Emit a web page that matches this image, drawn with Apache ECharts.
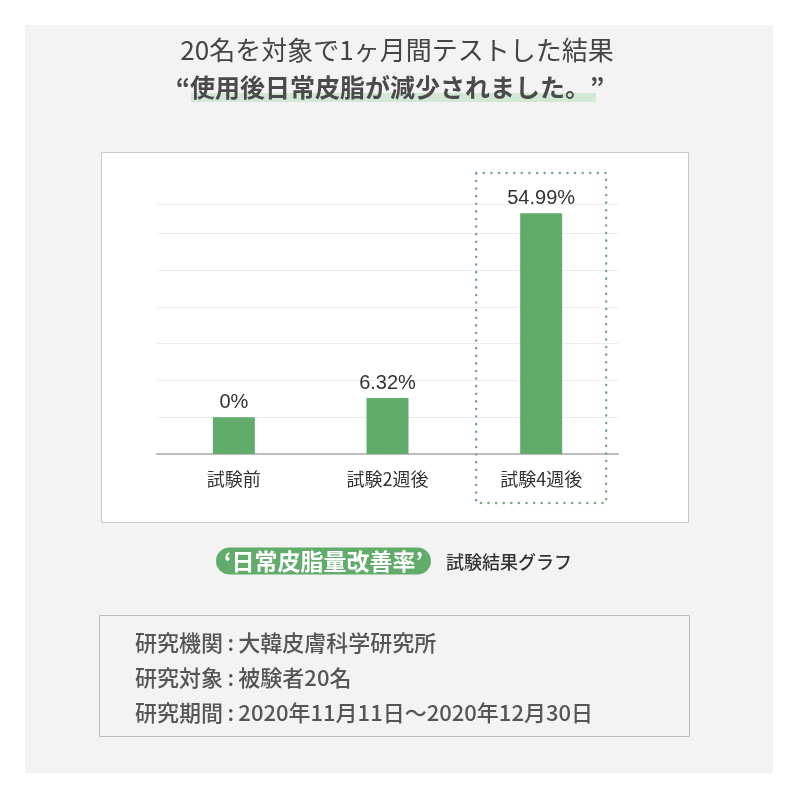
<!DOCTYPE html>
<html><head><meta charset="utf-8">
<script src="https://cdn.jsdelivr.net/npm/echarts@6/dist/echarts.min.js"></script>
<style>html,body{margin:0;padding:0;background:#fff}#c{width:800px;height:800px}</style>
</head><body><div id="c"></div>
<script>
// ---- data ----
const categories = ['試験前', '試験2週後', '試験4週後'];
// bar heights as drawn in the picture, in grid-line units (the bars are illustrative)
const barHeights = [1.0, 1.52, 6.55];
const valueLabels = ['0%', '6.32%', '54.99%'];
const yMin = 0;
const yMax = 6.8;
const yInterval = 1;
const titleLine1 = '20名を対象で1ヶ月間テストした結果';
const titleLine2 = '“使用後日常皮脂が減少されました。”';
const badgeText = '‘日常皮脂量改善率’';
const captionText = '試験結果グラフ';
const infoLines = [
  '研究機関\u2009:\u2009大韓皮膚科学研究所',
  '研究対象\u2009:\u2009被験者20名',
  '研究期間\u2009:\u20092020年11月11日～2020年12月30日'
];
const highlightIndex = 2;

// ---- chart ----
const CJK = '"Noto Sans CJK JP", "Noto Sans", sans-serif';
const LAT = '"Liberation Sans", Arial, sans-serif';
const chart = echarts.init(document.getElementById('c'), null, {renderer: 'canvas'});

const staticGraphics = [
  {type: 'rect', z: -20, shape: {x: 25, y: 25, width: 748, height: 748}, style: {fill: '#f3f3f3'}, silent: true},
  {type: 'rect', z: -15, shape: {x: 101.5, y: 152.5, width: 587, height: 370}, style: {fill: '#ffffff', stroke: '#c9c9c9', lineWidth: 1}, silent: true},
  {type: 'rect', z: -15, shape: {x: 99.5, y: 615.5, width: 590, height: 121}, style: {fill: '#f3f3f3', stroke: '#b9b9b9', lineWidth: 1}, silent: true},
  {type: 'rect', z: -12, shape: {x: 191, y: 93, width: 405, height: 9}, style: {fill: '#d3e7d7'}, silent: true},
  {type: 'text', z: 10, x: 397, y: 50, style: {text: titleLine1, font: '400 26px ' + CJK, fill: '#444444', align: 'center', verticalAlign: 'middle'}},
  {type: 'text', z: 10, x: 390, y: 87, style: {text: titleLine2, font: '700 25px ' + CJK, fill: '#4a4a4a', align: 'center', verticalAlign: 'middle'}},
  {type: 'text', z: 10, x: 216, y: 561, style: {text: badgeText, font: '700 23px ' + CJK, fill: '#ffffff', align: 'left', verticalAlign: 'middle', backgroundColor: '#61ab6b', borderRadius: 15, padding: [2, 8, 2, 8]}},
  {type: 'text', z: 10, x: 446, y: 562, style: {text: captionText, font: '500 18px ' + CJK, fill: '#333333', align: 'left', verticalAlign: 'middle'}}
];
infoLines.forEach((t, i) => {
  staticGraphics.push({type: 'text', z: 10, x: 135, y: 643 + i * 35, style: {text: t, font: '500 22px ' + CJK, fill: '#555555', align: 'left', verticalAlign: 'middle'}});
});

const option = {
  backgroundColor: '#ffffff',
  animation: false,
  grid: {left: 157, top: 204, width: 461, bottom: 346, containLabel: false},
  xAxis: {
    type: 'category',
    data: categories,
    axisLine: {show: true, lineStyle: {color: '#bdbdbd', width: 2}},
    axisTick: {show: false},
    axisLabel: {color: '#333333', fontSize: 18, fontFamily: CJK, margin: 16}
  },
  yAxis: {
    type: 'value',
    min: yMin, max: yMax, interval: yInterval,
    axisLine: {show: false}, axisTick: {show: false}, axisLabel: {show: false},
    splitLine: {show: true, lineStyle: {color: '#ececec', width: 1}}
  },
  series: [{
    type: 'bar',
    data: barHeights,
    barWidth: 42,
    itemStyle: {color: '#61ab6b'},
    label: {
      show: true, position: 'top', distance: 5,
      formatter: p => valueLabels[p.dataIndex],
      color: '#333333', fontSize: 20, fontFamily: LAT
    }
  }],
  graphic: staticGraphics
};
chart.setOption(option);

// dotted highlight box around the highlighted category
const cx = chart.convertToPixel({xAxisIndex: 0}, categories[highlightIndex]);
const by = chart.convertToPixel({yAxisIndex: 0}, 0);
chart.setOption({
  graphic: staticGraphics.concat([{
    type: 'rect', z: 5, silent: true,
    shape: {x: cx - 65, y: by - 281, width: 130, height: 330},
    style: {fill: 'none', stroke: '#7aa887', lineWidth: 2.5, lineDash: [0.1, 7.5], lineCap: 'round'}
  }])
}, {replaceMerge: ['graphic']});
</script>
</body></html>
